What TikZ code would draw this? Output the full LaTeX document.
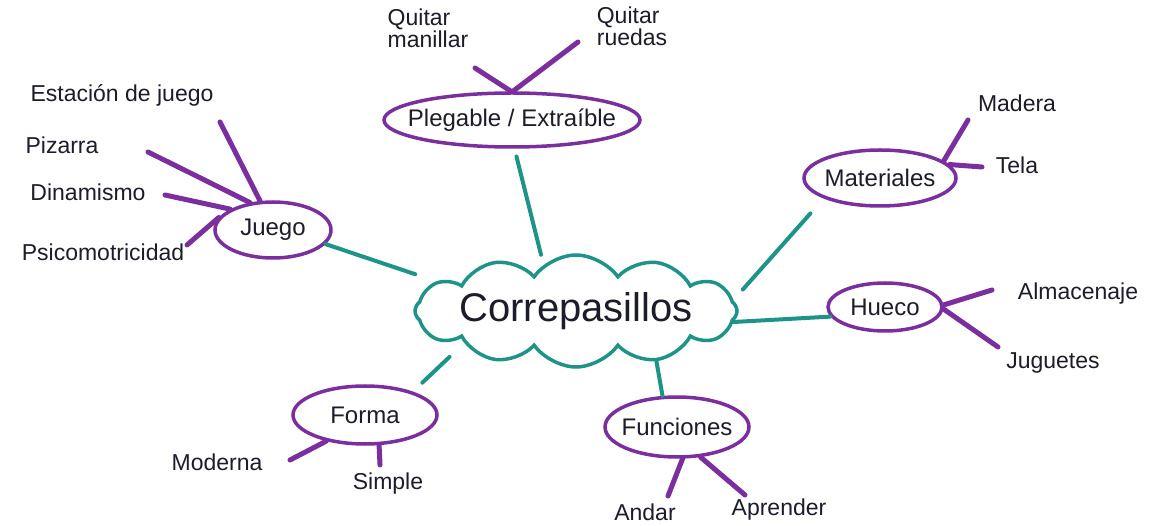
\documentclass[tikz,border=0pt]{standalone}
\usepackage{fontspec}
\setmainfont{Liberation Sans}
\usetikzlibrary{shapes.symbols,shapes.geometric}
\definecolor{purp}{HTML}{7B2E9E}
\definecolor{tealm}{HTML}{1E9488}
\definecolor{ink}{HTML}{1C1C2A}
\newcommand\zw[1]{\makebox[0pt]{#1}}
\begin{document}
\begin{tikzpicture}[x=1pt,y=-1pt,
  bubble/.style={ellipse, draw=purp, line width=3.5pt, inner sep=0pt, text=ink, font=\fontsize{24}{26}\selectfont},
  leaf/.style={text=ink, font=\fontsize{23}{21}\selectfont, align=center, inner sep=1pt},
  plink/.style={draw=purp, line width=5pt, line cap=round},
  tlink/.style={draw=tealm, line width=4pt, line cap=round}]
\fill[white] (0,0) rectangle (1151,526);
\useasboundingbox (0,0) rectangle (1151,526);

% central cloud
\node[cloud, draw=tealm, line width=3.5pt, cloud puffs=12, cloud puff arc=110, aspect=2.9,
      minimum width=322pt, minimum height=112pt, inner sep=0pt,
      font=\fontsize{40}{42}\selectfont, text=ink] (c) at (576,311) {\zw{Correpasillos}};

% category bubbles
\node[bubble, minimum width=116pt, minimum height=56pt] (jg) at (273,230) {\zw{Juego}};
\node[bubble, minimum width=256pt, minimum height=54pt] (pl) at (512,120) {\zw{Plegable / Extraíble}};
\node[bubble, minimum width=152pt, minimum height=56pt] (ma) at (880,178) {\zw{Materiales}};
\node[bubble, minimum width=114pt, minimum height=48pt] (hu) at (885,307) {\zw{Hueco}};
\node[bubble, minimum width=144pt, minimum height=60pt] (fu) at (677,427) {\zw{Funciones}};
\node[bubble, minimum width=144pt, minimum height=58pt] (fo) at (365,415) {\zw{Forma}};

% leaves
\node[leaf] (est) at (122,95) {Estación de juego};
\node[leaf] (piz) at (62,145) {Pizarra};
\node[leaf] (din) at (88,192) {Dinamismo};
\node[leaf] (psi) at (103,252) {Psicomotricidad};
\node[leaf, align=left] (qm) at (428,28) {Quitar\\manillar};
\node[leaf, align=left] (qr) at (632,26) {Quitar\\ruedas};
\node[leaf] (mad) at (1017,103) {Madera};
\node[leaf] (tel) at (1017,165) {Tela};
\node[leaf] (alm) at (1078,294) {Almacenaje};
\node[leaf] (jug) at (1053,363) {Juguetes};
\node[leaf] (mod) at (217,462) {Moderna};
\node[leaf] (sim) at (388,484) {Simple};
\node[leaf] (and) at (645,512) {Andar};
\node[leaf] (apr) at (779,510) {Aprender};

% free ends of purple strokes
\coordinate (eEst) at (220,122);
\coordinate (ePiz) at (148,152);
\coordinate (eDin) at (165,195);
\coordinate (ePsi) at (187,245);
\coordinate (eQm) at (475,68);
\coordinate (eQr) at (578,42);
\coordinate (eMad) at (968,120);
\coordinate (eTel) at (982,167);
\coordinate (eAlm) at (992,290);
\coordinate (eJug) at (998,347);
\coordinate (eMod) at (290,460);
\coordinate (eSim) at (380,465);
\coordinate (eAnd) at (668,496);
\coordinate (eApr) at (745,495);

% teal connectors
\draw[tlink, shorten >=22pt] (jg.-15) -- (c.168);
\draw[tlink, shorten >=10pt, shorten <=8pt] (pl.-85) -- (c.125);
\draw[tlink, shorten <=20pt, shorten >=14pt] (ma.200) -- (c.4);
\draw[tlink] (hu.190) -- (c.-4);
\draw[tlink] (fu.115) -- (c.-32);
\draw[tlink, shorten <=13pt, shorten >=20pt] (fo.26) -- (c.196);

% purple connectors
\draw[plink] (eEst) -- (jg.114);
\draw[plink] (ePiz) -- (jg.130);
\draw[plink] (eDin) -- (jg.154);
\draw[plink] (ePsi) -- (jg.167);
\draw[plink] (eQm) -- (pl.92);
\draw[plink] (eQr) -- (pl.88);
\draw[plink] (eMad) -- (ma.15);
\draw[plink] (eTel) -- (ma.11);
\draw[plink] (eAlm) -- (hu.2);
\draw[plink] (eJug) -- (hu.-2);
\draw[plink] (eMod) -- (fo.-146);
\draw[plink] (eSim) -- (fo.-65);
\draw[plink] (eAnd) -- (fu.-80);
\draw[plink] (eApr) -- (fu.-52);
\end{tikzpicture}
\end{document}
